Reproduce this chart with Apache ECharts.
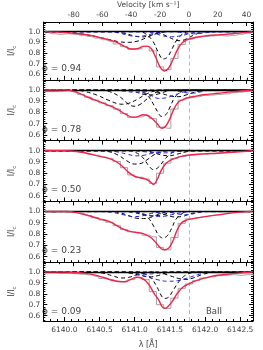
<!DOCTYPE html>
<html><head><meta charset="utf-8">
<script src="https://cdn.jsdelivr.net/npm/echarts@6/dist/echarts.min.js"></script>
<style>html,body{margin:0;padding:0;background:#fff}#c{width:263px;height:350px}</style>
</head><body><div id="c"></div>
<script>
// ---------- data ----------
const C_KMS = 299792.458;
const LAM0 = 6141.77;          // rest wavelength for velocity 0
const VMIN = -101, VMAX = 44.5; // velocity range shown
const CONTINUUM = 1.0;
const PHASES = ['0.94', '0.78', '0.50', '0.23', '0.09'];
const VEL_TICKS = [-80, -60, -40, -20, 0, 20, 40];
const LAM_TICKS = [6140.0, 6140.5, 6141.0, 6141.5, 6142.0, 6142.5];
const Y_TICKS = [0.6, 0.7, 0.8, 0.9, 1.0];

// observed spectrum sampling (velocity, km/s)
const V_OBS = [-100,-95,-90,-85,-80,-75,-70,-65,-60,-55,-50,-45,-40,-35,-30,-25,-20,-15,-10,-5,0,5,10,15,20,25,30,35,40,45];

// ---- phase 0.94 ----
const gray_094 = [0.995,0.98,0.975,0.98,0.975,0.965,0.955,0.94,0.925,0.91,0.885,0.86,0.835,0.84,0.86,0.82,0.67,0.645,0.75,0.88,0.93,0.945,0.955,0.96,0.965,0.96,0.965,0.975,0.985,1.0];
const red_094 = [[-100,1.0],[-90,0.995],[-80,0.985],[-70,0.97],[-60,0.94],[-50,0.90],[-45,0.865],[-40,0.838],[-36,0.84],[-32,0.862],[-29,0.865],[-26,0.84],[-23,0.76],[-20,0.67],[-17,0.632],[-14,0.66],[-11,0.74],[-8,0.83],[-5,0.89],[-2,0.92],[0,0.93],[5,0.948],[10,0.958],[20,0.97],[30,0.98],[40,0.993],[44,1.0]];
const black_094 = [
  [[-100,1],[-85,0.995],[-75,0.98],[-65,0.955],[-55,0.925],[-48,0.905],[-42,0.90],[-36,0.91],[-30,0.94],[-25,0.97],[-20,0.99],[-15,1],[45,1]],
  [[-100,1],[-35,1],[-30,0.98],[-25,0.91],[-21,0.80],[-18,0.745],[-15,0.76],[-12,0.83],[-8,0.93],[-4,0.98],[0,1],[45,1]],
  [[-100,1],[-25,1],[-20,0.985],[-15,0.955],[-10,0.925],[-6,0.915],[-2,0.93],[3,0.965],[8,0.99],[12,1],[45,1]],
  [[-100,1],[-55,1],[-45,0.985],[-38,0.96],[-33,0.95],[-28,0.96],[-22,0.985],[-15,1],[45,1]]
];
const blue_094 = [
  [[-100,1],[-55,1],[-48,0.985],[-40,0.96],[-35,0.955],[-30,0.965],[-24,0.985],[-18,1],[45,1]],
  [[-100,1],[-30,1],[-24,0.985],[-18,0.96],[-12,0.952],[-6,0.96],[0,0.98],[6,0.995],[12,1],[45,1]],
  [[-100,1],[-10,1],[-5,0.99],[0,0.98],[5,0.98],[12,0.99],[20,1],[45,1]]
];

// ---- phase 0.78 ----
const gray_078 = [0.985,0.985,0.99,0.995,0.985,0.96,0.935,0.91,0.885,0.86,0.83,0.79,0.755,0.76,0.775,0.745,0.67,0.66,0.83,0.91,0.93,0.94,0.95,0.955,0.96,0.965,0.975,0.98,0.99,1.0];
const red_078 = [[-100,1.0],[-85,1.0],[-78,0.98],[-70,0.935],[-60,0.885],[-50,0.83],[-44,0.785],[-39,0.757],[-35,0.765],[-32,0.78],[-29,0.775],[-25,0.74],[-22,0.70],[-19,0.66],[-16,0.68],[-13,0.75],[-10,0.84],[-7,0.895],[-3,0.92],[0,0.933],[5,0.945],[10,0.957],[20,0.97],[30,0.984],[40,0.995],[44,1.0]];
const black_078 = [
  [[-100,1],[-80,1],[-72,0.985],[-64,0.955],[-56,0.91],[-50,0.88],[-46,0.873],[-42,0.88],[-36,0.915],[-30,0.96],[-24,0.99],[-18,1],[45,1]],
  [[-100,1],[-62,1],[-55,0.985],[-48,0.94],[-42,0.875],[-38,0.855],[-34,0.87],[-29,0.92],[-24,0.97],[-18,0.995],[-12,1],[45,1]],
  [[-100,1],[-38,1],[-33,0.985],[-28,0.94],[-24,0.86],[-21,0.79],[-19,0.765],[-16,0.78],[-13,0.85],[-10,0.93],[-6,0.98],[-2,1],[45,1]],
  [[-100,1],[-30,1],[-24,0.99],[-18,0.965],[-12,0.945],[-7,0.94],[-2,0.955],[4,0.98],[10,0.995],[15,1],[45,1]],
  [[-100,1],[-45,1],[-38,0.985],[-31,0.96],[-26,0.955],[-21,0.965],[-15,0.99],[-10,1],[45,1]]
];
const blue_078 = [
  [[-100,1],[-55,1],[-45,0.99],[-38,0.98],[-30,0.985],[-22,1],[45,1]],
  [[-100,1],[-40,1],[-33,0.985],[-27,0.955],[-21,0.925],[-16,0.93],[-10,0.955],[-4,0.98],[2,0.995],[8,1],[45,1]],
  [[-100,1],[-15,1],[-8,0.99],[-2,0.975],[3,0.972],[9,0.985],[16,1],[45,1]]
];

// ---- phase 0.50 ----
const gray_050 = [1.0,1.0,1.0,0.998,0.995,0.985,0.97,0.96,0.945,0.93,0.905,0.85,0.785,0.765,0.75,0.71,0.80,0.89,0.93,0.95,0.96,0.965,0.97,0.975,0.98,0.985,0.99,0.995,1.0,1.0];
const red_050 = [[-100,1.0],[-85,1.0],[-78,0.993],[-70,0.975],[-62,0.95],[-55,0.93],[-50,0.90],[-46,0.86],[-42,0.81],[-38,0.775],[-34,0.76],[-30,0.748],[-27,0.728],[-24.5,0.70],[-22,0.745],[-19,0.83],[-16,0.885],[-12,0.92],[-6,0.948],[0,0.962],[10,0.972],[20,0.978],[30,0.986],[40,0.996],[44,1.0]];
const black_050 = [
  [[-100,1],[-62,1],[-55,0.99],[-49,0.96],[-43,0.91],[-38,0.882],[-34,0.885],[-29,0.92],[-24,0.965],[-19,0.99],[-14,1],[45,1]],
  [[-100,1],[-42,1],[-37,0.985],[-32,0.94],[-28,0.87],[-24.5,0.832],[-21,0.855],[-17,0.92],[-13,0.97],[-9,0.995],[-5,1],[45,1]],
  [[-100,1],[-32,1],[-26,0.99],[-20,0.965],[-14,0.955],[-8,0.97],[-2,0.99],[4,1],[45,1]]
];
const blue_050 = [
  [[-100,1],[-58,1],[-50,0.99],[-43,0.97],[-37,0.955],[-31,0.96],[-25,0.98],[-18,0.995],[-12,1],[45,1]],
  [[-100,1],[-40,1],[-30,0.99],[-22,0.98],[-15,0.982],[-8,0.992],[0,1],[45,1]]
];

// ---- phase 0.23 ----
const gray_023 = [1.0,0.995,1.0,0.998,0.99,0.98,0.965,0.945,0.925,0.905,0.875,0.84,0.82,0.81,0.79,0.775,0.68,0.66,0.77,0.895,0.935,0.945,0.955,0.965,0.97,0.98,0.99,0.995,1.0,1.0];
const red_023 = [[-100,1.0],[-85,1.0],[-78,0.99],[-70,0.965],[-62,0.935],[-55,0.91],[-48,0.86],[-43,0.83],[-38,0.817],[-34,0.81],[-30,0.795],[-26,0.765],[-22,0.71],[-19,0.67],[-17,0.66],[-14,0.675],[-11,0.74],[-8,0.84],[-5,0.9],[-2,0.922],[0,0.93],[10,0.953],[20,0.97],[30,0.988],[40,0.998],[44,1.0]];
const black_023 = [
  [[-100,1],[-38,1],[-33,0.985],[-28,0.94],[-24,0.86],[-21,0.79],[-18,0.765],[-15,0.785],[-12,0.85],[-9,0.93],[-5,0.98],[-1,1],[45,1]],
  [[-100,1],[-55,1],[-48,0.99],[-42,0.965],[-36,0.94],[-30,0.938],[-25,0.955],[-19,0.985],[-13,1],[45,1]],
  [[-100,1],[-28,1],[-22,0.99],[-16,0.97],[-10,0.952],[-5,0.955],[0,0.975],[6,0.995],[12,1],[45,1]],
  [[-100,1],[-45,1],[-38,0.99],[-31,0.97],[-25,0.962],[-19,0.97],[-13,0.99],[-7,1],[45,1]]
];
const blue_023 = [
  [[-100,1],[-60,1],[-52,0.99],[-45,0.97],[-39,0.955],[-33,0.96],[-27,0.98],[-20,0.995],[-14,1],[45,1]],
  [[-100,1],[-42,1],[-35,0.99],[-29,0.97],[-23,0.955],[-17,0.958],[-11,0.975],[-5,0.99],[1,1],[45,1]],
  [[-100,1],[-18,1],[-12,0.99],[-6,0.975],[-1,0.972],[5,0.985],[12,1],[45,1]]
];

// ---- phase 0.09 ----
const gray_009 = [1.0,0.995,0.99,0.99,0.985,0.98,0.975,0.96,0.94,0.93,0.915,0.91,0.93,0.95,0.93,0.82,0.70,0.665,0.76,0.85,0.89,0.92,0.945,0.955,0.965,0.97,0.975,0.97,0.975,0.975];
const red_009 = [[-100,1.0],[-85,1.0],[-78,0.995],[-70,0.985],[-63,0.965],[-57,0.94],[-52,0.92],[-47,0.91],[-43,0.915],[-39,0.94],[-36,0.952],[-33,0.945],[-30,0.92],[-27,0.87],[-24,0.80],[-21,0.745],[-18.5,0.68],[-16.5,0.667],[-14,0.69],[-11,0.74],[-8,0.805],[-4,0.862],[0,0.89],[5,0.92],[10,0.942],[15,0.958],[20,0.97],[30,0.985],[40,0.997],[44,1.0]];
const black_009 = [
  [[-100,1],[-68,1],[-60,0.99],[-53,0.965],[-47,0.945],[-42,0.95],[-37,0.97],[-31,0.99],[-26,1],[45,1]],
  [[-100,1],[-36,1],[-31,0.985],[-26,0.94],[-22,0.86],[-19,0.78],[-17,0.757],[-14,0.77],[-11,0.83],[-7,0.91],[-3,0.965],[1,0.99],[5,1],[45,1]],
  [[-100,1],[-48,1],[-41,0.99],[-34,0.97],[-28,0.955],[-22,0.965],[-16,0.99],[-10,1],[45,1]],
  [[-100,1],[-25,1],[-19,0.99],[-13,0.965],[-7,0.94],[-2,0.932],[3,0.945],[9,0.975],[15,0.995],[20,1],[45,1]]
];
const blue_009 = [
  [[-100,1],[-45,1],[-38,0.99],[-30,0.96],[-22,0.93],[-15,0.915],[-8,0.92],[-1,0.945],[6,0.975],[13,0.995],[20,1],[45,1]],
  [[-100,1],[-50,1],[-40,0.99],[-32,0.98],[-24,0.985],[-16,1],[45,1]]
];

const PANELS = [
  {gray: gray_094, red: red_094, black: black_094, blue: blue_094},
  {gray: gray_078, red: red_078, black: black_078, blue: blue_078},
  {gray: gray_050, red: red_050, black: black_050, blue: blue_050},
  {gray: gray_023, red: red_023, black: black_023, blue: blue_023},
  {gray: gray_009, red: red_009, black: black_009, blue: blue_009}
];

// ---------- layout ----------
const TOP = 19, PH = 60.8, LEFT = 30, RIGHT = 10;
const YMIN = 0.55, YMAX = 1.09;
const LAMMIN = LAM0 * (1 + VMIN / C_KMS), LAMMAX = LAM0 * (1 + VMAX / C_KMS);
const FONT = 'DejaVu Sans';
const TXT = '#444';

const velMinor = []; for (let v = -100; v <= 40; v += 10) if (VEL_TICKS.indexOf(v) < 0) velMinor.push(v);
const lamMinor = []; for (let k = 0; k <= 30; k++) { const l = +(6139.7 + k * 0.1).toFixed(1); if (l <= LAMMAX && Math.abs(l*2 - Math.round(l*2)) > 1e-6) lamMinor.push(l); }
const yMinor = []; for (let k = 28; k <= 54; k++) { const y = +(k * 0.02).toFixed(2); if (Math.abs(y*10 - Math.round(y*10)) > 1e-6) yMinor.push(y); }

const grids = [], xAxes = [], yAxes = [], series = [], graphics = [];
const line = {show: true, onZero: false, lineStyle: {color: '#000', width: 1}};
const noLine = {show: false, onZero: false};

PANELS.forEach((p, i) => {
  grids.push({left: LEFT, right: RIGHT, top: TOP + i * PH, height: PH, containLabel: false});
  // velocity axis (top)
  xAxes.push({
    type: 'value', gridIndex: i, position: 'top', min: VMIN, max: VMAX,
    axisLine: line, splitLine: {show: false},
    axisTick: {show: true, inside: true, length: 4, customValues: VEL_TICKS, lineStyle: {color: '#000'}},
    axisLabel: {show: i === 0, customValues: VEL_TICKS, fontFamily: FONT, fontSize: 7.5, color: TXT, margin: 3},
    name: i === 0 ? 'Velocity [km s⁻¹]' : '', nameLocation: 'middle', nameGap: 13,
    nameTextStyle: {fontFamily: FONT, fontSize: 7.5, color: TXT}
  });
  // wavelength axis (bottom)
  xAxes.push({
    type: 'value', gridIndex: i, position: 'bottom', min: LAMMIN, max: LAMMAX,
    axisLine: line, splitLine: {show: false},
    axisTick: {show: true, inside: true, length: 4, customValues: LAM_TICKS, lineStyle: {color: '#000'}},
    axisLabel: {show: i === 4, customValues: LAM_TICKS, formatter: v => v.toFixed(1), fontFamily: FONT, fontSize: 7.5, color: TXT, margin: 5},
    name: i === 4 ? 'λ [Å]' : '', nameLocation: 'middle', nameGap: 20,
    nameTextStyle: {fontFamily: FONT, fontSize: 8, color: TXT}
  });
  xAxes.push({
    type: 'value', gridIndex: i, position: 'top', min: VMIN, max: VMAX, axisLine: noLine, splitLine: {show: false},
    axisTick: {show: true, inside: true, length: 2, customValues: velMinor, lineStyle: {color: '#000'}}, axisLabel: {show: false}
  });
  xAxes.push({
    type: 'value', gridIndex: i, position: 'bottom', min: LAMMIN, max: LAMMAX, axisLine: noLine, splitLine: {show: false},
    axisTick: {show: true, inside: true, length: 2, customValues: lamMinor, lineStyle: {color: '#000'}}, axisLabel: {show: false}
  });
  // y axes
  yAxes.push({
    type: 'value', gridIndex: i, position: 'left', min: YMIN, max: YMAX,
    axisLine: line, splitLine: {show: false},
    axisTick: {show: true, inside: true, length: 4, customValues: Y_TICKS, lineStyle: {color: '#000'}},
    axisLabel: {show: true, customValues: Y_TICKS, formatter: v => v.toFixed(1), fontFamily: FONT, fontSize: 7.5, color: TXT, margin: 3},
    name: '{a|I/I}{s|c}', nameLocation: 'middle', nameGap: 18, nameRotate: 90,
    nameTextStyle: {fontFamily: FONT, fontSize: 8, color: TXT, rich: {a: {fontFamily: FONT, fontSize: 8, color: TXT}, s: {fontFamily: FONT, fontSize: 5.5, color: TXT, padding: [5, 0, 0, 0]}}}
  });
  yAxes.push({
    type: 'value', gridIndex: i, position: 'left', min: YMIN, max: YMAX, axisLine: noLine, splitLine: {show: false},
    axisTick: {show: true, inside: true, length: 2, customValues: yMinor, lineStyle: {color: '#000'}}, axisLabel: {show: false}
  });
  yAxes.push({
    type: 'value', gridIndex: i, position: 'right', min: YMIN, max: YMAX, axisLine: line, splitLine: {show: false},
    axisTick: {show: true, inside: true, length: 4, customValues: Y_TICKS, lineStyle: {color: '#000'}}, axisLabel: {show: false}
  });
  yAxes.push({
    type: 'value', gridIndex: i, position: 'right', min: YMIN, max: YMAX, axisLine: noLine, splitLine: {show: false},
    axisTick: {show: true, inside: true, length: 2, customValues: yMinor, lineStyle: {color: '#000'}}, axisLabel: {show: false}
  });

  const xi = 4 * i, yi = 4 * i;
  series.push({
    type: 'line', xAxisIndex: xi, yAxisIndex: yi, step: 'middle', symbol: 'none', z: 1,
    data: V_OBS.map((v, k) => [v, p.gray[k]]),
    lineStyle: {color: '#a3a3a3', width: 1},
    markLine: {
      silent: true, symbol: ['none', 'none'], label: {show: false}, animation: false,
      data: [
        {xAxis: 0, lineStyle: {color: '#b8b8b8', type: [4, 3], width: 1}},
        {yAxis: CONTINUUM, lineStyle: {color: '#000', type: 'solid', width: 1.3}}
      ]
    }
  });
  p.black.forEach(d => series.push({
    type: 'line', xAxisIndex: xi, yAxisIndex: yi, symbol: 'none', smooth: 0.4, z: 3, data: d,
    lineStyle: {color: '#000', width: 1, type: [4, 3]}
  }));
  p.blue.forEach(d => series.push({
    type: 'line', xAxisIndex: xi, yAxisIndex: yi, symbol: 'none', smooth: 0.4, z: 3, data: d,
    lineStyle: {color: '#2424e0', width: 1, type: [4, 3]}
  }));
  series.push({
    type: 'line', xAxisIndex: xi, yAxisIndex: yi, symbol: 'none', smooth: 0.35, z: 5, data: p.red,
    lineStyle: {color: '#f0244c', width: 1.4}
  });
  graphics.push({
    type: 'text', left: 42, top: TOP + i * PH + 45,
    style: {text: 'ϕ = ' + PHASES[i], font: '9px "DejaVu Sans"', fill: TXT}
  });
});
graphics.push({
  type: 'text', left: 206, top: TOP + 4 * PH + 45,
  style: {text: 'BaII', font: '8.5px "DejaVu Sans"', fill: TXT}
});

const chart = echarts.init(document.getElementById('c'), null, {renderer: 'canvas'});
chart.setOption({
  animation: false, backgroundColor: '#fff',
  grid: grids, xAxis: xAxes, yAxis: yAxes, series: series, graphic: graphics
});
</script></body></html>
